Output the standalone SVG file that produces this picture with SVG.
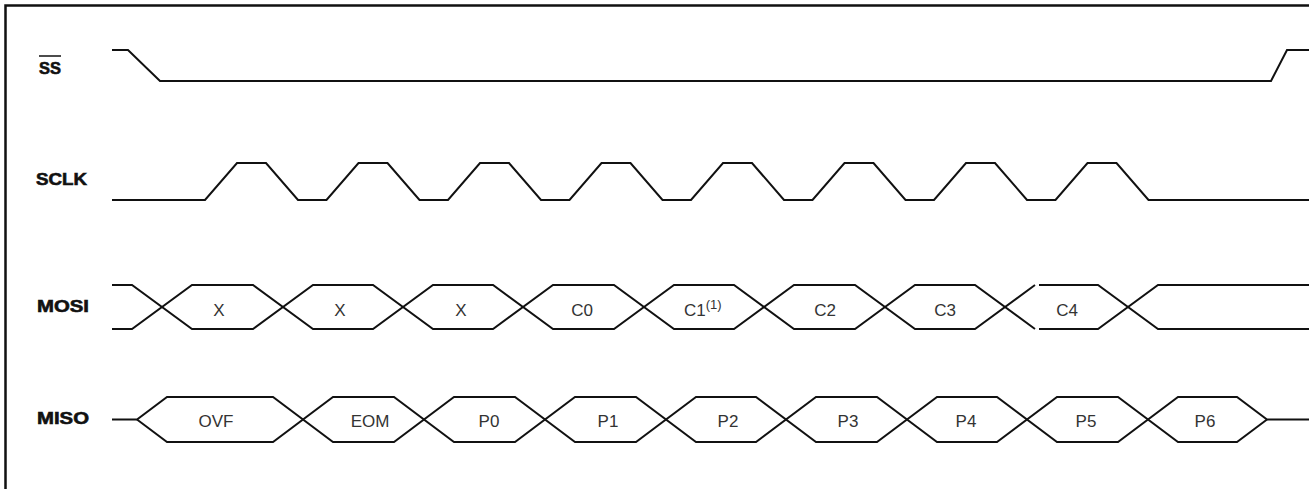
<svg xmlns="http://www.w3.org/2000/svg" width="1309" height="489" viewBox="0 0 1309 489">
<style>
.wave{fill:none;stroke:#111;stroke-width:2;stroke-linejoin:miter}
.frame{fill:none;stroke:#111;stroke-width:2.5}
.name{font-family:"Liberation Sans",Arial,sans-serif;font-weight:bold;font-size:17px;fill:#111;stroke:#111;stroke-width:0.6}
.lbl{font-family:"Liberation Sans",Arial,sans-serif;font-size:17px;fill:#333;text-anchor:middle}
</style>
<rect width="1309" height="489" fill="#fff"/>
<path class="frame" d="M5.5,489 V5.5 H1309"/>

<g id="ss">
  <text class="name" x="39" y="74" textLength="22" lengthAdjust="spacingAndGlyphs">SS</text>
  <line x1="39" y1="56" x2="61" y2="56" stroke="#111" stroke-width="1.5"/>
  <path class="wave" d="M112,50 H128 L160,81 H1271 L1287,50 H1309"/>
</g>

<g id="sclk">
  <text class="name" x="36" y="185" textLength="51" lengthAdjust="spacingAndGlyphs">SCLK</text>
  <path class="wave" d="M112,200 H205 L237,163 H266 L298,200 H326.5 L358.5,163 H387.5 L419.5,200 H448 L480,163 H509 L541,200 H569.5 L601.5,163 H630.5 L662.5,200 H691 L723,163 H752 L784,200 H812.5 L844.5,163 H873.5 L905.5,200 H934 L966,163 H995 L1027,200 H1055.5 L1087.5,163 H1116.5 L1148.5,200 H1309"/>
</g>

<g id="mosi">
  <text class="name" x="37" y="312" textLength="52" lengthAdjust="spacingAndGlyphs">MOSI</text>
  <path class="wave" d="M112,285 H132 L192,329 H253 L313,285 H373 L433,329 H493 L553,285 H614 L674,329 H734 L794,285 H855 L915,329 H975 L1035,285 M1039,285 H1098 L1158,329 H1309"/>
  <path class="wave" d="M112,329 H132 L192,285 H253 L313,329 H373 L433,285 H493 L553,329 H614 L674,285 H734 L794,329 H855 L915,285 H975 L1035,329 M1039,329 H1098 L1158,285 H1309"/>
  <text class="lbl" x="219" y="316">X</text>
  <text class="lbl" x="340" y="316">X</text>
  <text class="lbl" x="461" y="316">X</text>
  <text class="lbl" x="582" y="316">C0</text>
  <text class="lbl" x="684" y="316" style="text-anchor:start">C1<tspan font-size="13" dy="-7">(1)</tspan></text>
  <text class="lbl" x="825" y="316">C2</text>
  <text class="lbl" x="945" y="316">C3</text>
  <text class="lbl" x="1067" y="316">C4</text>
</g>

<g id="miso">
  <text class="name" x="37" y="424" textLength="52" lengthAdjust="spacingAndGlyphs">MISO</text>
  <path class="wave" d="M112,419.5 H137 L167,397 H273 L333,442 H394 L454,397 H515 L575,442 H636 L696,397 H756 L816,442 H877 L937,397 H997 L1057,442 H1118 L1178,397 H1237 L1267,419.5 H1309"/>
  <path class="wave" d="M137,419.5 L167,442 H273 L333,397 H394 L454,442 H515 L575,397 H636 L696,442 H756 L816,397 H877 L937,442 H997 L1057,397 H1118 L1178,442 H1237 L1267,419.5"/>
  <text class="lbl" x="216" y="427">OVF</text>
  <text class="lbl" x="370" y="427">EOM</text>
  <text class="lbl" x="489" y="427">P0</text>
  <text class="lbl" x="608" y="427">P1</text>
  <text class="lbl" x="728" y="427">P2</text>
  <text class="lbl" x="848" y="427">P3</text>
  <text class="lbl" x="966" y="427">P4</text>
  <text class="lbl" x="1086" y="427">P5</text>
  <text class="lbl" x="1205" y="427">P6</text>
</g>

<g id="connectors"></g>
</svg>
